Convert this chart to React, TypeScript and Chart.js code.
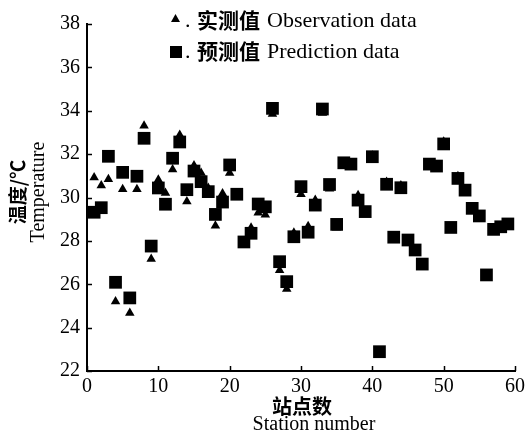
import React, { useEffect, useRef } from "react";
import { Chart, registerables } from "chart.js";

Chart.register(...registerables);

// ---- data ----
const stations = [
  1, 2, 3, 4, 5, 6, 7, 8, 9, 10, 11, 12, 13, 14, 15, 16, 17, 18, 19, 20,
  21, 22, 23, 24, 25, 26, 27, 28, 29, 30, 31, 32, 33, 34, 35, 36, 37, 38, 39, 40,
  41, 42, 43, 44, 45, 46, 47, 48, 49, 50, 51, 52, 53, 54, 55, 56, 57, 58, 59,
];

// 实测值 Observation data (triangles)
const observed = [
  30.92, 30.55, 30.84, 25.21, 30.38, 24.67, 30.38, 33.31, 27.16, 30.82,
  30.21, 31.29, 32.88, 29.82, 31.48, 31.13, 30.44, 28.7, 30.18, 31.13,
  30.1, 27.95, 28.6, 29.3, 29.2, 33.85, 26.65, 25.78, 28.38, 30.15,
  28.68, 29.88, 33.9, 30.4, 28.6, 31.6, 31.54, 30.1, 29.35, 31.93,
  22.89, 30.71, 28.17, 30.55, 28.04, 27.58, 26.93, 31.54, 31.45, 32.57,
  28.62, 30.98, 30.34, 29.5, 29.15, 26.43, 28.53, 28.65, 28.78,
];

// 预测值 Prediction data (squares)
const predicted = [
  29.32, 29.53, 31.9, 26.09, 31.16, 25.37, 30.98, 32.73, 27.76, 30.44,
  29.69, 31.81, 32.56, 30.36, 31.22, 30.73, 30.27, 29.22, 29.79, 31.5,
  30.15, 27.95, 28.35, 29.7, 29.57, 34.11, 27.04, 26.12, 28.19, 30.5,
  28.4, 29.65, 34.08, 30.6, 28.76, 31.6, 31.54, 29.88, 29.35, 31.88,
  22.89, 30.61, 28.17, 30.45, 28.04, 27.58, 26.93, 31.54, 31.45, 32.47,
  28.62, 30.88, 30.34, 29.5, 29.15, 26.43, 28.53, 28.65, 28.78,
];

const xTickValues = [0, 10, 20, 30, 40, 50, 60];
const yTickValues = [22, 24, 26, 28, 30, 32, 34, 36, 38];

const xTitleCn = "站点数";
const xTitleEn = "Station number";
const yTitleCn = "温度/℃";
const yTitleEn = "Temperature";
const legendObsCn = "实测值";
const legendObsEn = "Observation data";
const legendPredCn = "预测值";
const legendPredEn = "Prediction data";

const SERIF = "'Liberation Serif', 'Times New Roman', serif";
const CJK = "'Noto Sans CJK SC', sans-serif";

const decorPlugin = {
  id: "decor",
  afterDraw(chart: any) {
    const ctx = chart.ctx as CanvasRenderingContext2D;
    const { left, bottom } = chart.chartArea;
    const xs = chart.scales.x;
    const ys = chart.scales.y;
    ctx.save();
    ctx.strokeStyle = "#000";
    ctx.lineWidth = 1.5;
    yTickValues.forEach((v) => {
      const py = Math.round(ys.getPixelForValue(v)) + 0.5;
      ctx.beginPath();
      ctx.moveTo(left, py);
      ctx.lineTo(left + 5, py);
      ctx.stroke();
    });
    xTickValues.forEach((v) => {
      const px = Math.round(xs.getPixelForValue(v)) + 0.5;
      ctx.beginPath();
      ctx.moveTo(px, bottom);
      ctx.lineTo(px, bottom - 5);
      ctx.stroke();
    });

    ctx.fillStyle = "#000";
    ctx.textAlign = "center";
    ctx.textBaseline = "middle";
    // x titles
    ctx.font = `bold 20px ${CJK}`;
    ctx.fillText(xTitleCn, 302, 406);
    ctx.font = `20px ${SERIF}`;
    ctx.fillText(xTitleEn, 314, 425);
    // y titles
    ctx.save();
    ctx.translate(18, 192);
    ctx.rotate(-Math.PI / 2);
    ctx.font = `bold 19px ${CJK}`;
    ctx.fillText(yTitleCn, 0, 0);
    ctx.restore();
    ctx.save();
    ctx.translate(39, 192);
    ctx.rotate(-Math.PI / 2);
    ctx.font = `20px ${SERIF}`;
    ctx.fillText(yTitleEn, 0, 0);
    ctx.restore();

    // legend
    ctx.textAlign = "left";
    ctx.beginPath();
    ctx.moveTo(175.5, 14);
    ctx.lineTo(180, 22);
    ctx.lineTo(171, 22);
    ctx.closePath();
    ctx.fill();
    ctx.fillRect(170, 46, 12, 12);

    ctx.font = `22px ${SERIF}`;
    ctx.fillText(".", 185, 21);
    ctx.fillText(".", 185, 52);
    ctx.font = `bold 21px ${CJK}`;
    ctx.fillText(legendObsCn, 197, 20);
    ctx.fillText(legendPredCn, 197, 51);
    ctx.font = `22px ${SERIF}`;
    ctx.fillText(legendObsEn, 267, 21);
    ctx.fillText(legendPredEn, 267, 52);
    ctx.restore();
  },
};

export default function App() {
  const ref = useRef<HTMLCanvasElement | null>(null);

  useEffect(() => {
    if (!ref.current) return;
    const chart = new Chart(ref.current, {
      type: "scatter",
      data: {
        datasets: [
          {
            label: legendObsEn,
            data: stations.map((s, i) => ({ x: s, y: observed[i] })),
            pointStyle: "triangle",
            pointRadius: 5.5,
            backgroundColor: "#000",
            borderColor: "#000",
            borderWidth: 0,
          },
          {
            label: legendPredEn,
            data: stations.map((s, i) => ({ x: s, y: predicted[i] })),
            pointStyle: "rect",
            pointRadius: 9,
            backgroundColor: "#000",
            borderColor: "#000",
            borderWidth: 0,
          },
        ],
      },
      options: {
        responsive: false,
        animation: false,
        layout: { autoPadding: false, padding: { top: 24, right: 11, left: 0, bottom: 0 } },
        plugins: {
          legend: { display: false },
          tooltip: { enabled: false },
        },
        scales: {
          x: {
            type: "linear",
            min: 0,
            max: 60,
            afterFit: (s: any) => {
              s.height = 70;
              s.paddingLeft = 0;
              s.paddingRight = 0;
            },
            ticks: {
              stepSize: 10,
              color: "#000",
              padding: 4,
              maxRotation: 0,
              font: { family: SERIF, size: 20 },
            },
            grid: { display: false, drawTicks: false },
            border: { display: true, color: "#000", width: 2 },
          },
          y: {
            type: "linear",
            min: 22,
            max: 38,
            afterFit: (s: any) => {
              s.width = 87;
              s.paddingTop = 0;
              s.paddingBottom = 0;
            },
            ticks: {
              stepSize: 2,
              color: "#000",
              padding: 7,
              font: { family: SERIF, size: 20 },
            },
            grid: { display: false, drawTicks: false },
            border: { display: true, color: "#000", width: 2 },
          },
        },
      },
      plugins: [decorPlugin],
    });
    return () => chart.destroy();
  }, []);

  return (
    <div style={{ position: "absolute", left: 0, top: 0, width: 526, height: 441, background: "#fff" }}>
      <canvas ref={ref} width={526} height={441} />
    </div>
  );
}
